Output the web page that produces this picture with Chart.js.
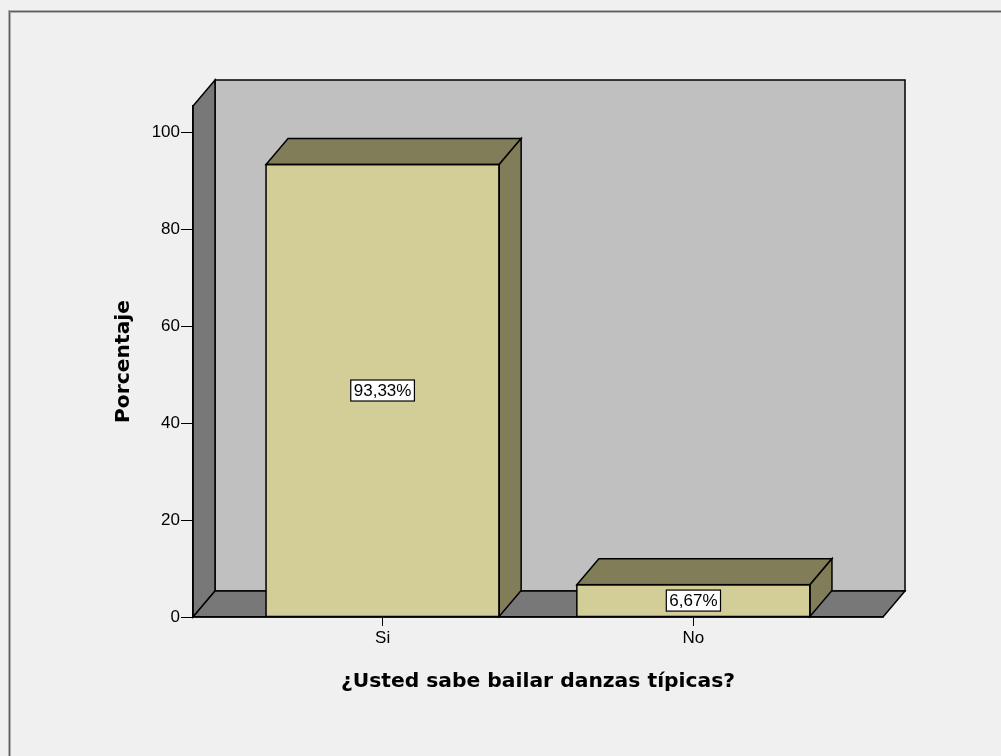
<!DOCTYPE html>
<html>
<head>
<meta charset="utf-8">
<script src="https://cdn.jsdelivr.net/npm/chart.js@4.4.0/dist/chart.umd.min.js"></script>
<style>
  html, body { margin: 0; padding: 0; background: #F0F0F0; }
  canvas { display: block; }
</style>
</head>
<body>
<canvas id="c" width="1001" height="756"></canvas>
<script>
// ---- data ----
const categories = ['Si', 'No'];
const percentages = [93.33, 6.67];
const valueLabels = ['93,33%', '6,67%'];
const yTickValues = [0, 20, 40, 60, 80, 100];
const yTitle = 'Porcentaje';
const xTitle = '¿Usted sabe bailar danzas típicas?';

// ---- style ----
const DX = 22, DY = -26;
const BG = '#F0F0F0';
const WALL_BACK = '#C0C0C0';
const WALL_SIDE = '#787878';
const BAR_FRONT = '#D3CE97';
const BAR_DARK = '#817D59';
const EDGE = '#000000';

function poly(ctx, pts, fill) {
  ctx.beginPath();
  ctx.moveTo(pts[0][0], pts[0][1]);
  for (let i = 1; i < pts.length; i++) ctx.lineTo(pts[i][0], pts[i][1]);
  ctx.closePath();
  ctx.fillStyle = fill;
  ctx.fill();
  ctx.lineWidth = 1.5;
  ctx.strokeStyle = EDGE;
  ctx.stroke();
}

const wallsPlugin = {
  id: 'walls',
  beforeDraw(chart) {
    const ctx = chart.ctx;
    const a = chart.chartArea;
    ctx.save();
    ctx.fillStyle = BG;
    ctx.fillRect(0, 0, chart.width, chart.height);
    // outer frame
    ctx.strokeStyle = '#B0B0B0';
    ctx.lineWidth = 3;
    ctx.strokeRect(9.5, 11.5, chart.width + 20, chart.height + 20);
    ctx.strokeStyle = '#5E5E5E';
    ctx.lineWidth = 1;
    ctx.strokeRect(9.5, 11.5, chart.width + 20, chart.height + 20);
    // back wall
    poly(ctx, [[a.left + DX, a.top + DY], [a.right + DX, a.top + DY], [a.right + DX, a.bottom + DY], [a.left + DX, a.bottom + DY]], WALL_BACK);
    // left wall
    poly(ctx, [[a.left, a.top], [a.left + DX, a.top + DY], [a.left + DX, a.bottom + DY], [a.left, a.bottom]], WALL_SIDE);
    // floor
    poly(ctx, [[a.left, a.bottom], [a.left + DX, a.bottom + DY], [a.right + DX, a.bottom + DY], [a.right, a.bottom]], WALL_SIDE);
    ctx.restore();
  }
};

const bar3dPlugin = {
  id: 'bar3d',
  afterDatasetsDraw(chart) {
    const ctx = chart.ctx;
    const meta = chart.getDatasetMeta(0);
    ctx.save();
    meta.data.forEach((el, i) => {
      const p = el.getProps(['x', 'y', 'base', 'width'], true);
      const l = p.x - p.width / 2, r = p.x + p.width / 2;
      // top face
      poly(ctx, [[l, p.y], [l + DX, p.y + DY], [r + DX, p.y + DY], [r, p.y]], BAR_DARK);
      // side face
      poly(ctx, [[r, p.y], [r + DX, p.y + DY], [r + DX, p.base + DY], [r, p.base]], BAR_DARK);
      // front outline
      ctx.lineWidth = 1.5;
      ctx.strokeStyle = EDGE;
      ctx.strokeRect(l, p.y, r - l, p.base - p.y);
    });
    // value labels
    ctx.font = '17px "Liberation Sans", Arial, sans-serif';
    ctx.textAlign = 'center';
    ctx.textBaseline = 'middle';
    meta.data.forEach((el, i) => {
      const p = el.getProps(['x', 'y', 'base'], true);
      const cy = (p.y + p.base) / 2;
      const txt = valueLabels[i];
      const w = ctx.measureText(txt).width + 6;
      const h = 21;
      ctx.fillStyle = '#FFFFFF';
      ctx.fillRect(p.x - w / 2, cy - h / 2, w, h);
      ctx.lineWidth = 1.2;
      ctx.strokeStyle = '#000';
      ctx.strokeRect(p.x - w / 2, cy - h / 2, w, h);
      ctx.fillStyle = '#000';
      ctx.fillText(txt, p.x, cy + 1);
    });
    ctx.restore();
  }
};

new Chart(document.getElementById('c'), {
  type: 'bar',
  data: {
    datasets: [{
      data: percentages.map((v, i) => ({ x: i, y: v })),
      backgroundColor: BAR_FRONT,
      borderColor: EDGE,
      borderWidth: 0,
      barPercentage: 0.75,
      categoryPercentage: 1.0
    }]
  },
  options: {
    responsive: false,
    devicePixelRatio: 1,
    animation: false,
    layout: { padding: { left: 100, top: 106, right: 118, bottom: 56 } },
    plugins: { legend: { display: false }, tooltip: { enabled: false } },
    scales: {
      x: {
        type: 'linear',
        offset: false,
        min: -0.61,
        max: 1.61,
        afterBuildTicks: (s) => { s.ticks = categories.map((c, i) => ({ value: i })); },
        afterFit: (s) => { s.height = 83; },
        ticks: {
          callback: (v) => categories[v] ?? '',
          color: '#000',
          padding: 2,
          font: { family: '"Liberation Sans", Arial, sans-serif', size: 17 },
          maxRotation: 0,
          autoSkip: false
        },
        grid: { offset: false, drawOnChartArea: false, drawTicks: true, tickLength: 9, color: '#000', lineWidth: 1 },
        border: { display: true, color: '#000', width: 1.5 },
        title: {
          display: true,
          text: xTitle,
          color: '#000',
          padding: { top: 0, bottom: 6 },
          font: { family: '"DejaVu Sans", Verdana, sans-serif', size: 20.3, weight: 'bold' }
        }
      },
      y: {
        min: 0,
        max: 105.4,
        afterBuildTicks: (s) => { s.ticks = yTickValues.map(v => ({ value: v })); },
        afterFit: (s) => { s.width = 93; },
        ticks: {
          color: '#000',
          padding: 1,
          font: { family: '"Liberation Sans", Arial, sans-serif', size: 17 }
        },
        grid: { drawOnChartArea: false, drawTicks: true, tickLength: 12, color: '#000', lineWidth: 1 },
        border: { display: true, color: '#000', width: 1.5 },
        title: {
          display: true,
          text: yTitle,
          color: '#000',
          padding: { top: 11.8, bottom: 0 },
          font: { family: '"DejaVu Sans", Verdana, sans-serif', size: 20.3, weight: 'bold' }
        }
      }
    }
  },
  plugins: [wallsPlugin, bar3dPlugin]
});
</script>
</body>
</html>
